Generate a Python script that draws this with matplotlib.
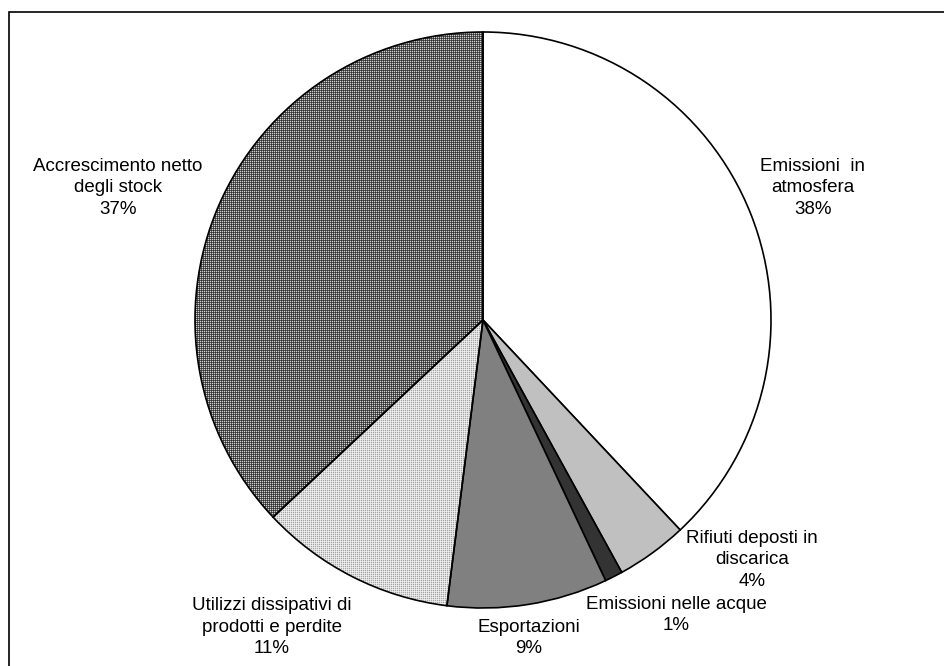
import numpy as np
import matplotlib
matplotlib.use("Agg")
import matplotlib.pyplot as plt
from matplotlib.patches import Rectangle

# Destinazione dei flussi di materia in uscita (%)
categories = [
    "Emissioni  in\natmosfera",
    "Rifiuti deposti in\ndiscarica",
    "Emissioni nelle acque",
    "Esportazioni",
    "Utilizzi dissipativi di\nprodotti e perdite",
    "Accrescimento netto\ndegli stock",
]
shares = [38, 4, 1, 9, 11, 37]

# Fill style per slice: plain grey or a pixel texture
face_colors = ["#ffffff", "#c0c0c0", "#333333", "#808080", None, None]
textures = {
    4: np.array([[0xa8, 0xdc], [0xdc, 0xf0]]),   # light dotted
    5: np.array([[0x30, 0x58], [0x58, 0xd0]]),   # dark checker
}

# Label anchor points (figure pixels, origin top-left)
label_xy = [(813, 188), (752, 560), (676, 615), (529, 638), (272, 627), (118, 188)]

W, H = 944, 666
fig = plt.figure(figsize=(W / 100, H / 100), dpi=100)
ax = fig.add_axes([0, 0, 1, 1])

center = (483, H - 320)
radius = 288

wedges, _ = ax.pie(
    shares,
    center=center,
    radius=radius,
    startangle=90,
    counterclock=False,
    colors=[c if c else "none" for c in face_colors],
    wedgeprops=dict(edgecolor="black", linewidth=1.2),
    frame=True,
)
ax.set_xlim(0, W)
ax.set_ylim(0, H)
ax.set_aspect("equal")
ax.axis("off")

for idx, tile in textures.items():
    x0, x1 = center[0] - radius - 2, center[0] + radius + 2
    y0, y1 = center[1] - radius - 2, center[1] + radius + 2
    nx, ny = int(x1 - x0), int(y1 - y0)
    img = np.tile(tile, (ny // 2 + 1, nx // 2 + 1))[:ny, :nx]
    im = ax.imshow(img, cmap="gray", vmin=0, vmax=255, extent=(x0, x1, y0, y1),
                   interpolation="nearest", zorder=0.5, origin="upper")
    im.set_clip_path(wedges[idx])

for text, share, (lx, ly) in zip(categories, shares, label_xy):
    ax.text(lx, H - ly, f"{text}\n{share}%", ha="center", va="center",
            fontsize=13.5, family="Liberation Sans", linespacing=1.32, color="black")

# Chart-area border
ax.add_patch(Rectangle((9, -20), W + 20, H - 12 + 20, fill=False,
                       edgecolor="black", linewidth=1.2, clip_on=False))

fig.savefig("out.png", dpi=100)
